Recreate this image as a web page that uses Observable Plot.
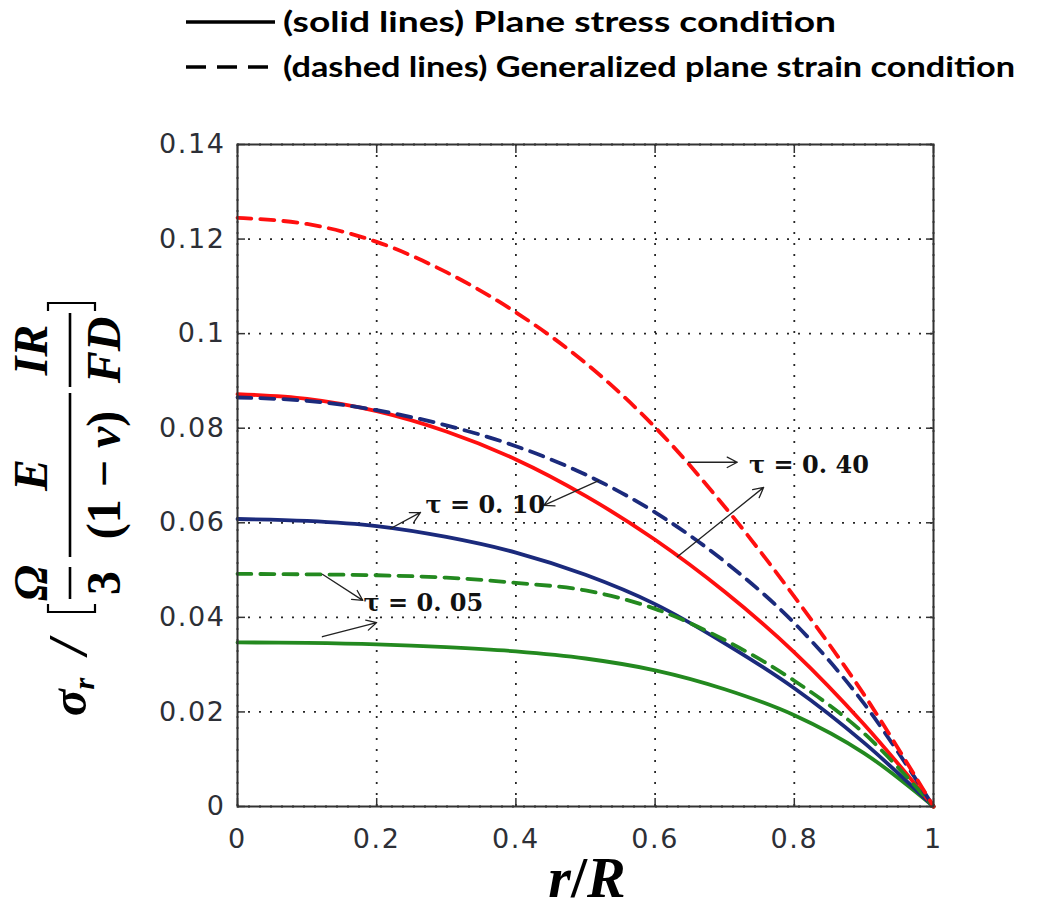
<!DOCTYPE html>
<html>
<head>
<meta charset="utf-8">
<script src="https://cdn.jsdelivr.net/npm/d3@7"></script>
<script src="https://cdn.jsdelivr.net/npm/@observablehq/plot@0.6"></script>
<style>
  html, body { margin: 0; padding: 0; background: #fff; }
  #legend { width: 1052px; height: 100px; display: block; }
  #chart svg { display: block; }
  #chart svg g[aria-label="x-axis tick label"] text,
  #chart svg g[aria-label="y-axis tick label"] text { letter-spacing: 1.6px; }
</style>
</head>
<body>
<div id="legend"></div>
<div id="chart"></div>
<script>
// ---- data ----
const rR = [0, 0.1, 0.2, 0.3, 0.4, 0.5, 0.6, 0.7, 0.8, 0.9, 1];

const stress005 = [0.0347, 0.0346, 0.0343, 0.0337, 0.0328, 0.0313, 0.0288, 0.0248, 0.0193, 0.0113, 0];
const stress010 = [0.0608, 0.0604, 0.0593, 0.0570, 0.0537, 0.0490, 0.0428, 0.0345, 0.0250, 0.0135, 0];
const stress040 = [0.0872, 0.0862, 0.0836, 0.0793, 0.0734, 0.0657, 0.0564, 0.0454, 0.0326, 0.0174, 0];
const strain005 = [0.0492, 0.0491, 0.0489, 0.0484, 0.0473, 0.0457, 0.0418, 0.0352, 0.0266, 0.0155, 0];
const strain010 = [0.0865, 0.0858, 0.0838, 0.0806, 0.0762, 0.0702, 0.0622, 0.0518, 0.0388, 0.0218, 0];
const strain040 = [0.1245, 0.1232, 0.1194, 0.1130, 0.1045, 0.0938, 0.0802, 0.0634, 0.0444, 0.0237, 0];

const seriesNames  = ["stress005", "stress010", "stress040", "strain005", "strain010", "strain040"];
const seriesValues = [stress005, stress010, stress040, strain005, strain010, strain040];
const seriesColors = ["#23891f", "#1b2a7c", "#ff0f0f", "#23891f", "#1b2a7c", "#ff0f0f"];
const seriesDashed = [false, false, false, true, true, true];

const xTicks = [0, 0.2, 0.4, 0.6, 0.8, 1];
const xTickLabels = ["0", "0.2", "0.4", "0.6", "0.8", "1"];
const yTicks = [0, 0.02, 0.04, 0.06, 0.08, 0.1, 0.12, 0.14];
const yTickLabels = ["0", "0.02", "0.04", "0.06", "0.08", "0.1", "0.12", "0.14"];

// annotations
const tauLabels = ["τ = 0. 40", "τ = 0. 10", "τ = 0. 05"];
const tauX = [0.735, 0.270, 0.181];
const tauY = [0.0721, 0.0637, 0.0429];
const arrowX1 = [0.648, 0.632, 0.220, 0.519, 0.122, 0.122];
const arrowY1 = [0.0728, 0.0528, 0.0588, 0.0689, 0.0491, 0.0359];
const arrowX2 = [0.718, 0.756, 0.263, 0.440, 0.180, 0.200];
const arrowY2 = [0.0728, 0.0675, 0.0622, 0.0637, 0.0436, 0.0389];

const legendTexts = ["(solid lines) Plane stress condition", "(dashed lines) Generalized plane strain condition"];

// ---- legend (above the plot) ----
const leg = d3.select("#legend").append("svg").attr("width", 1052).attr("height", 100);
const legRows = [22, 67];
const legLens = [553, 732];
legRows.forEach((y, i) => {
  leg.append("line").attr("x1", 186).attr("x2", 275).attr("y1", y).attr("y2", y)
    .attr("stroke", "#000").attr("stroke-width", 3.5)
    .attr("stroke-dasharray", i === 1 ? "20,11" : null);
  leg.append("text").attr("x", 283).attr("y", y + 10)
    .attr("font-family", "Lato, 'Open Sans', sans-serif").attr("font-weight", "bold")
    .attr("font-size", 28).attr("fill", "#000")
    .attr("textLength", legLens[i]).attr("lengthAdjust", "spacingAndGlyphs")
    .text(legendTexts[i]);
});

// ---- plot ----
const lineMarks = seriesValues.map((vals, k) =>
  Plot.line(rR.map((x, i) => ({x, y: vals[i], s: seriesNames[k]})), {
    x: "x", y: "y", stroke: seriesColors[k], strokeWidth: 3.8,
    strokeDasharray: seriesDashed[k] ? "14,9" : null, curve: "catmull-rom"
  })
);

const arrows = arrowX1.map((d, i) => ({x1: arrowX1[i], y1: arrowY1[i], x2: arrowX2[i], y2: arrowY2[i]}));
const labels = tauLabels.map((t, i) => ({x: tauX[i], y: tauY[i], t}));

const tickFont = {fontSize: 27, fontFamily: "'DejaVu Sans', Arial, sans-serif"};

const plot = Plot.plot({
  width: 1052,
  height: 813,
  marginLeft: 237,
  marginRight: 119,
  marginTop: 44,
  marginBottom: 107,
  style: {background: "#fff", color: "#333", fontFamily: "'DejaVu Sans', sans-serif"},
  x: {domain: [0, 1]},
  y: {domain: [0, 0.14]},
  marks: [
    Plot.gridX(xTicks, {stroke: "#000", strokeOpacity: 0.85, strokeWidth: 1.8, strokeDasharray: "2,9"}),
    Plot.gridY(yTicks, {stroke: "#000", strokeOpacity: 0.85, strokeWidth: 1.8, strokeDasharray: "2,9"}),
    ...lineMarks,
    Plot.arrow(arrows, {x1: "x1", y1: "y1", x2: "x2", y2: "y2", stroke: "#222", strokeWidth: 1.3, headLength: 13, headAngle: 55}),
    Plot.text(labels, {x: "x", y: "y", text: "t", textAnchor: "start", fontSize: 24, fontWeight: "bold",
      fontFamily: "'DejaVu Serif', serif", fill: "#111"}),
    Plot.frame({stroke: "#333", strokeWidth: 2}),
    Plot.axisX(xTicks, {anchor: "bottom", tickSize: -8, fill: "none", label: null, stroke: "#333", strokeWidth: 1.5}),
    Plot.axisX(xTicks, {anchor: "top", tickSize: -8, fill: "none", label: null, stroke: "#333", strokeWidth: 1.5}),
    Plot.axisY(yTicks, {anchor: "left", tickSize: -8, fill: "none", label: null, stroke: "#333", strokeWidth: 1.5}),
    Plot.axisY(yTicks, {anchor: "right", tickSize: -8, fill: "none", label: null, stroke: "#333", strokeWidth: 1.5}),
    Plot.axisX(xTicks, {anchor: "bottom", tickSize: 0, tickPadding: 22, label: null,
      tickFormat: d => xTickLabels[xTicks.indexOf(d)], fill: "#2d2f36", ...tickFont}),
    Plot.axisY(yTicks, {anchor: "left", tickSize: 0, tickPadding: 12, label: null,
      tickFormat: d => yTickLabels[yTicks.indexOf(d)], fill: "#2d2f36", ...tickFont})
  ]
});
document.getElementById("chart").appendChild(plot);

// ---- axis titles (math) ----
const svg = d3.select(plot);
const serif = "'Liberation Serif', 'DejaVu Serif', serif";

// x label r/R
const xl = svg.append("text").attr("x", 587).attr("y", 797).attr("text-anchor", "middle")
  .attr("font-family", serif).attr("font-weight", "bold").attr("font-size", 58).attr("fill", "#000");
xl.append("tspan").attr("font-style", "italic").text("r");
xl.append("tspan").text("/");
xl.append("tspan").attr("font-style", "italic").text("R");

// y label rotated
const g = svg.append("g").attr("transform", "translate(0,597) rotate(-90)")
  .attr("font-family", serif).attr("font-weight", "bold").attr("fill", "#000");
const t1 = g.append("text").attr("x", 0).attr("y", 86).attr("font-size", 50);
t1.append("tspan").attr("font-style", "italic").text("σ");
t1.append("tspan").attr("font-style", "italic").attr("font-size", 30).attr("dy", 8).text("r");
g.append("text").attr("x", 50).attr("y", 86).attr("font-size", 54).attr("font-style", "italic").text("/");
// brackets
g.append("path").attr("d", "M93,48 H85 V95 H93").attr("fill", "none").attr("stroke", "#000").attr("stroke-width", 2.2);
g.append("path").attr("d", "M386,48 H394 V95 H386").attr("fill", "none").attr("stroke", "#000").attr("stroke-width", 2.2);
// fraction bars
[[98, 130], [140, 304], [310, 384]].forEach(([a, b]) =>
  g.append("line").attr("x1", a).attr("x2", b).attr("y1", 70).attr("y2", 70).attr("stroke", "#000").attr("stroke-width", 2.6));
const frac = (cx, num, den) => {
  const n = g.append("text").attr("x", cx).attr("y", 47).attr("text-anchor", "middle").attr("font-size", 48);
  num(n);
  const d = g.append("text").attr("x", cx).attr("y", 120).attr("text-anchor", "middle").attr("font-size", 48);
  den(d);
};
frac(114, n => n.append("tspan").attr("font-style", "italic").text("Ω"), d => d.append("tspan").text("3"));
frac(222, n => n.append("tspan").attr("font-style", "italic").text("E"), d => {
  d.append("tspan").text("(1 − ");
  d.append("tspan").attr("font-style", "italic").text("ν");
  d.append("tspan").text(")");
});
frac(347, n => n.append("tspan").attr("font-style", "italic").text("IR"), d => d.append("tspan").attr("font-style", "italic").text("FD"));
</script>
</body>
</html>
